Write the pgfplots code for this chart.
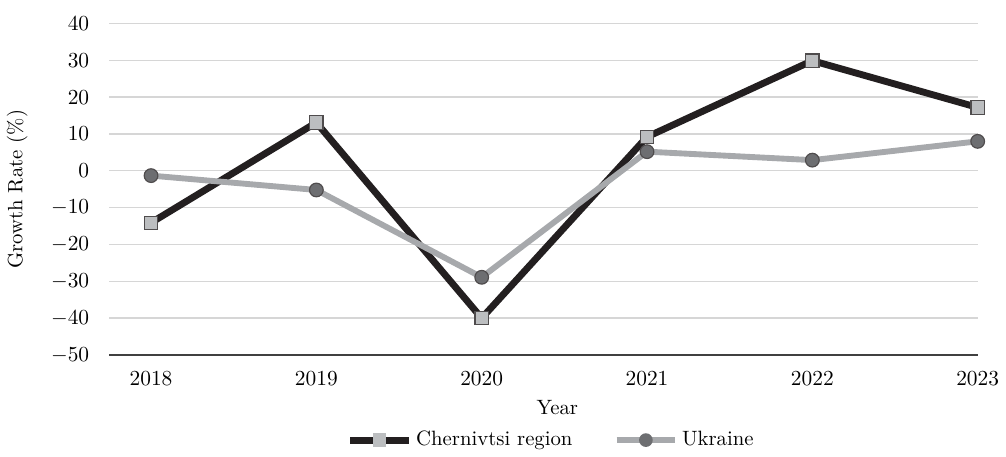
\documentclass[border=0pt]{standalone}
\usepackage{pgfplots}
\pgfplotsset{compat=1.18}
\definecolor{cherline}{HTML}{231F20}
\definecolor{cherfill}{HTML}{BCBEC0}
\definecolor{ukrline}{HTML}{A7A9AC}
\definecolor{ukrfill}{HTML}{6D6E71}
\definecolor{gridc}{HTML}{D6D6D6}
\begin{document}
\fontsize{10.6}{13}\selectfont
\begin{tikzpicture}
\begin{axis}[
    scale only axis,
    width=444pt, height=169.5pt,
    xmin=2017.747, xmax=2023,
    ymin=-50, ymax=40,
    xtick={2018,2019,2020,2021,2022,2023},
    ytick={-50,-40,...,40},
    xticklabel style={/pgf/number format/1000 sep={}, anchor=center, yshift=-12pt},
    yticklabel style={anchor=east, xshift=-6.5pt},
    ymajorgrids, grid style={gridc, line width=0.7pt},
    major tick length=0pt,
    axis line style={draw=none},
    axis x line*=bottom, axis y line*=left,
    xlabel={Year}, ylabel={Growth Rate (\%)},
    xlabel style={at={(axis description cs:0.516,0)}, anchor=center, yshift=-27pt},
    ylabel style={at={(axis description cs:0,0.5)}, anchor=center, yshift=47pt},
    clip=false,
    legend style={at={(axis description cs:0.51,0)}, anchor=center, yshift=-43.5pt,
        draw=none, fill=none, legend columns=2, font=\fontsize{10.6}{13}\selectfont,
        /tikz/every even column/.append style={column sep=19pt}},
    legend image code/.code={
        \draw[#1, mark=none] (0pt,0pt) -- (30pt,0pt);
        \draw[#1, draw opacity=0] plot coordinates {(15pt,0pt)};
    },
]
\path (axis description cs:0,1) ++(0pt,12pt) coordinate (toppad);
\path (toppad) -- ++(1pt,0pt);
\draw[black!75, line width=1pt] (axis cs:2017.747,-50) -- (axis cs:2023,-50);
\addplot[cherline, line width=3.5pt, mark=square*, mark size=3.4pt,
    mark options={fill=cherfill, draw=cherline!80, line width=0.6pt}] coordinates {
    (2018,-14.1) (2019,13.1) (2020,-40.0) (2021,9.2) (2022,29.9) (2023,17.2)
};
\addplot[ukrline, line width=3pt, mark=*, mark size=3.5pt,
    mark options={fill=ukrfill, draw=cherline!80, line width=0.6pt}] coordinates {
    (2018,-1.3) (2019,-5.2) (2020,-28.9) (2021,5.2) (2022,2.9) (2023,8.0)
};
\legend{Chernivtsi region, Ukraine}
\end{axis}
\end{tikzpicture}
\end{document}
